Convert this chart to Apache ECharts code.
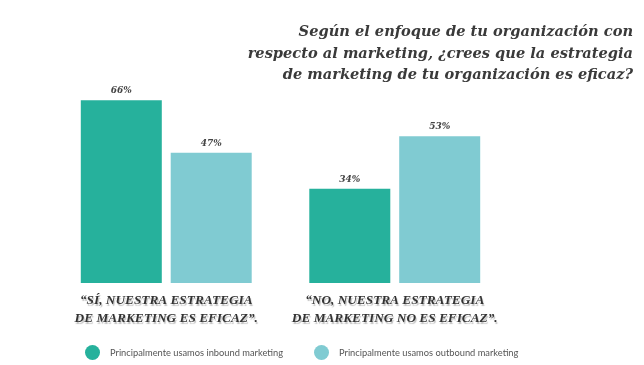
<!DOCTYPE html>
<html><head><meta charset="utf-8">
<script src="https://cdn.jsdelivr.net/npm/echarts@6/dist/echarts.min.js"></script>
<style>html,body{margin:0;padding:0;background:#fff}#c{width:644px;height:365px}</style>
</head><body><div id="c"></div>
<script>
const titleLines = ["Según el enfoque de tu organización con", "respecto al marketing, ¿crees que la estrategia", "de marketing de tu organización es eficaz?"];
const categories = ["“SÍ, NUESTRA ESTRATEGIA\nDE MARKETING ES EFICAZ”.", "“NO, NUESTRA ESTRATEGIA\nDE MARKETING NO ES EFICAZ”."];
const seriesNames = ["Principalmente usamos inbound marketing", "Principalmente usamos outbound marketing"];
const inboundValues = [66, 34];
const outboundValues = [47, 53];
const colors = ["#26B19C", "#80CBD2"];

const chart = echarts.init(document.getElementById('c'), null, {renderer: 'canvas'});
const labelStyle = {
  show: true, position: 'top', distance: 5, formatter: '{c}%',
  fontFamily: 'DejaVu Serif', fontStyle: 'italic', fontWeight: 'bold', fontSize: 9, color: '#444'
};
chart.setOption({
  animation: false,
  backgroundColor: '#fff',
  title: titleLines.map((t, i) => ({
    text: t, right: 11, top: 25 + i * 21.5, padding: 0,
    textStyle: {fontFamily: 'DejaVu Serif', fontStyle: 'italic', fontWeight: 'bold', fontSize: 14.6, color: '#3a3a3a'}
  })),
  legend: {
    bottom: 0, left: 80, itemGap: 31, itemWidth: 15, itemHeight: 15, icon: 'circle',
    textStyle: {fontFamily: 'Lato', fontSize: 9.3, color: '#555', padding: [0, 0, 0, 5]},
    data: seriesNames
  },
  grid: {left: 52, right: 135, top: 6, bottom: 82},
  xAxis: {
    type: 'category', data: categories,
    axisLine: {show: false}, axisTick: {show: false},
    axisLabel: {
      interval: 0, margin: 9, lineHeight: 18,
      fontFamily: 'Liberation Serif', fontStyle: 'italic', fontWeight: 'bold', fontSize: 13.3, color: '#333',
      textShadowColor: 'rgba(0,0,0,0.25)', textShadowBlur: 1, textShadowOffsetX: 1, textShadowOffsetY: 2
    }
  },
  yAxis: {type: 'value', min: 0, max: 100, show: false, splitLine: {show: false}},
  series: [
    {name: seriesNames[0], type: 'bar', data: inboundValues, barWidth: 81, barGap: '11%', itemStyle: {color: colors[0]}, label: labelStyle},
    {name: seriesNames[1], type: 'bar', data: outboundValues, barWidth: 81, itemStyle: {color: colors[1]}, label: labelStyle}
  ]
});
</script></body></html>
